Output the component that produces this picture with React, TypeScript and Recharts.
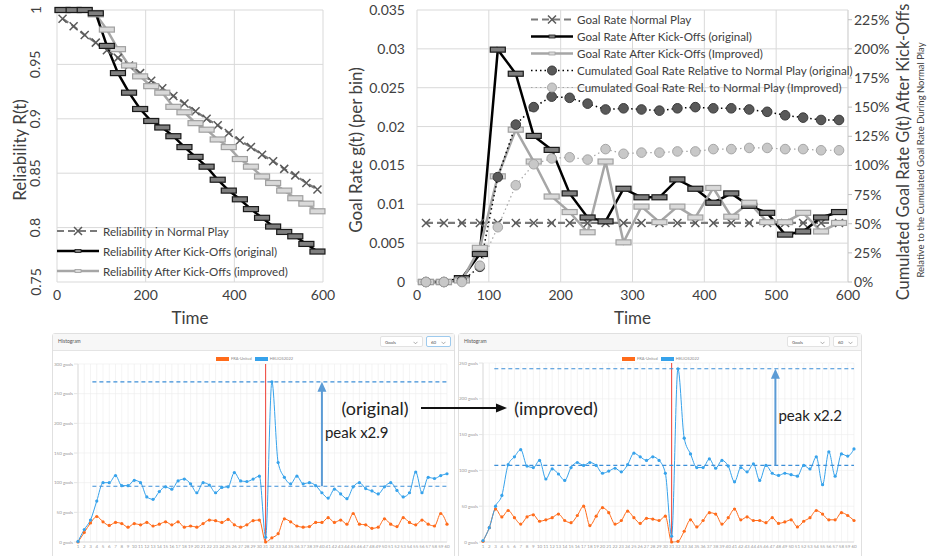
import React from 'react';
import {
  LineChart, ComposedChart, Line, XAxis, YAxis, CartesianGrid, Legend, ReferenceLine,
} from 'recharts';

// bin centres (seconds after the kick-off)
const binTimes = [12.5, 37.5, 62.5, 87.5, 112.5, 137.5, 162.5, 187.5, 212.5, 237.5, 262.5, 287.5,
  312.5, 337.5, 362.5, 387.5, 412.5, 437.5, 462.5, 487.5, 512.5, 537.5, 562.5, 587.5];

// reliability R(t)
const relNormal = [0.992, 0.985, 0.977, 0.970, 0.963, 0.956, 0.949, 0.942, 0.935, 0.928, 0.921, 0.914,
  0.907, 0.900, 0.894, 0.887, 0.880, 0.874, 0.867, 0.861, 0.854, 0.848, 0.841, 0.835];
const relOriginal = [1, 1, 1, 0.997, 0.967, 0.942, 0.924, 0.909, 0.898, 0.892, 0.884, 0.874,
  0.865, 0.856, 0.844, 0.834, 0.826, 0.817, 0.809, 0.801, 0.796, 0.792, 0.785, 0.778];
const relImproved = [1, 1, 1, 0.996, 0.982, 0.964, 0.949, 0.939, 0.930, 0.924, 0.911, 0.906,
  0.896, 0.890, 0.881, 0.874, 0.863, 0.856, 0.847, 0.841, 0.834, 0.827, 0.822, 0.815];

// goal rate g(t) per bin
const rateNormal = [0.0076, 0.0076, 0.0076, 0.0076, 0.0076, 0.0076, 0.0076, 0.0076, 0.0076, 0.0076, 0.0076, 0.0076,
  0.0076, 0.0076, 0.0076, 0.0076, 0.0076, 0.0076, 0.0076, 0.0076, 0.0076, 0.0076, 0.0076, 0.0076];
const rateOriginal = [0, 0, 0.0005, 0.0036, 0.0299, 0.0268, 0.0188, 0.0170, 0.0114, 0.0083, 0.0078, 0.0120,
  0.0109, 0.0109, 0.0132, 0.0120, 0.0102, 0.0114, 0.0098, 0.0089, 0.0061, 0.0065, 0.0083, 0.0090];
const rateImproved = [0, 0, 0.0002, 0.0044, 0.0136, 0.0196, 0.0155, 0.0110, 0.0090, 0.0064, 0.0155, 0.0051,
  0.0097, 0.0077, 0.0097, 0.0083, 0.0121, 0.0084, 0.0102, 0.0077, 0.0077, 0.0089, 0.0065, 0.0076];

// cumulated goal rate relative to normal play (%)
const cumOriginal = [0, 0, 1, 13, 90, 135, 150, 159, 158, 153, 148, 149, 148, 147, 149, 150, 149, 149, 148, 146, 143, 141, 139, 139];
const cumImproved = [0, 0, 0, 14, 47, 83, 101, 106, 107, 105, 114, 110, 111, 111, 112, 112, 114, 114, 115, 115, 114, 114, 113, 113];

// histogram screenshots: goals per bin
const histBins = [1, 2, 3, 4, 5, 6, 7, 8, 9, 10, 11, 12, 13, 14, 15, 16, 17, 18, 19, 20,
  21, 22, 23, 24, 25, 26, 27, 28, 29, 30, 31, 32, 33, 34, 35, 36, 37, 38, 39, 40,
  41, 42, 43, 44, 45, 46, 47, 48, 49, 50, 51, 52, 53, 54, 55, 56, 57, 58, 59, 60];
const heliosOriginal = [1, 21, 37, 69, 100, 100, 112, 95, 95, 104, 100, 76, 72, 85, 93, 89, 103, 106, 98, 83,
  100, 96, 83, 92, 93, 117, 103, 102, 106, 111, 8, 270, 134, 109, 98, 111, 98, 100, 95, 83,
  74, 89, 81, 73, 93, 100, 90, 86, 81, 93, 100, 87, 76, 83, 118, 83, 109, 107, 112, 115];
const fraOriginal = [0, 16, 32, 43, 34, 28, 33, 31, 25, 31, 29, 33, 27, 30, 34, 29, 34, 25, 27, 25,
  31, 37, 36, 33, 38, 29, 25, 29, 36, 37, 0, 7, 14, 39, 34, 27, 25, 26, 33, 33,
  41, 33, 37, 30, 48, 30, 29, 23, 25, 39, 30, 26, 41, 33, 29, 37, 30, 27, 48, 30];
const heliosImproved = [2, 20, 50, 65, 108, 119, 129, 106, 104, 114, 88, 102, 95, 86, 104, 111, 107, 111, 107, 96,
  99, 103, 98, 108, 124, 119, 114, 119, 114, 96, 8, 242, 145, 123, 104, 104, 116, 103, 114, 106,
  84, 104, 98, 109, 86, 107, 96, 93, 96, 94, 92, 107, 102, 119, 80, 126, 92, 123, 120, 130];
const fraImproved = [1, 20, 46, 35, 44, 34, 25, 35, 38, 29, 31, 34, 39, 30, 27, 37, 50, 23, 36, 48,
  41, 25, 30, 43, 34, 26, 33, 32, 30, 36, 0, 1, 15, 31, 21, 30, 41, 39, 25, 34,
  46, 31, 35, 30, 30, 27, 34, 26, 28, 31, 21, 29, 34, 44, 39, 31, 31, 41, 37, 30];

const topData = binTimes.map((t, i) => ({
  t,
  relNormal: relNormal[i], relOriginal: relOriginal[i], relImproved: relImproved[i],
  rateNormal: rateNormal[i], rateOriginal: rateOriginal[i], rateImproved: rateImproved[i],
  cumOriginal: cumOriginal[i], cumImproved: cumImproved[i],
}));

const FONT = 'Lato, "Open Sans", sans-serif';
const TXT = '#404040';
const GRID = '#d9d9d9';

// marker shapes
const xMark = (color: string) => (p: any) => {
  const { cx, cy, index } = p;
  return (
    <path key={index} d={`M${cx - 4},${cy - 4}L${cx + 4},${cy + 4}M${cx - 4},${cy + 4}L${cx + 4},${cy - 4}`}
      stroke={color} strokeWidth={1.5} fill="none" />
  );
};
const dashMark = (fill: string, stroke: string) => (p: any) => (
  <rect key={p.index} x={p.cx - 7.5} y={p.cy - 2.5} width={15} height={5} fill={fill} stroke={stroke} strokeWidth={1.2} />
);
const circleMark = (fill: string, stroke: string) => (p: any) => (
  <circle key={p.index} cx={p.cx} cy={p.cy} r={4.8} fill={fill} stroke={stroke} strokeWidth={1} />
);

const RotTick = (p: any) => (
  <text x={p.x} y={p.y} transform={`rotate(-90 ${p.x} ${p.y})`} textAnchor="middle" dominantBaseline="central"
    fontSize={14} fill={TXT} fontFamily={FONT}>{p.payload.value}</text>
);

// histogram y tick, kept on one line
const GoalsTick = (p: any) => (
  <text x={p.x} y={p.y} textAnchor="end" dominantBaseline="central" fontSize={4.5} fill="#999" fontFamily={FONT}>
    {`${p.payload.value} goals`}
  </text>
);

type Item = { label: string; kind: string };

const LegendIcon = ({ kind, y }: { kind: string; y: number }) => {
  const x1 = 0, x2 = 42, mx = 21;
  if (kind === 'normal') return (
    <g>
      <line x1={x1} y1={y} x2={x2} y2={y} stroke="#7a7a7a" strokeWidth={2.2} strokeDasharray="7 4" />
      {xMark('#595959')({ cx: mx, cy: y })}
    </g>
  );
  if (kind === 'orig') return (
    <g>
      <line x1={x1} y1={y} x2={x2} y2={y} stroke="#000" strokeWidth={2.5} />
      <rect x={mx - 3} y={y - 1.5} width={6} height={3} fill="#7f7f7f" stroke="#1a1a1a" strokeWidth={0.8} />
    </g>
  );
  if (kind === 'impr') return (
    <g>
      <line x1={x1} y1={y} x2={x2} y2={y} stroke="#a6a6a6" strokeWidth={2.5} />
      <rect x={mx - 3} y={y - 1.5} width={6} height={3} fill="#d9d9d9" stroke="#a0a0a0" strokeWidth={0.8} />
    </g>
  );
  if (kind === 'cumOrig') return (
    <g>
      <line x1={x1} y1={y} x2={x2} y2={y} stroke="#000" strokeWidth={1.5} strokeDasharray="1.5 3" />
      <circle cx={mx} cy={y} r={4.5} fill="#595959" stroke="#3a3a3a" />
    </g>
  );
  return (
    <g>
      <line x1={x1} y1={y} x2={x2} y2={y} stroke="#a6a6a6" strokeWidth={1.2} strokeDasharray="1.5 3" />
      <circle cx={mx} cy={y} r={4.5} fill="#c8c8c8" stroke="#a6a6a6" />
    </g>
  );
};

const makeLegend = (items: Item[], rowH: number, width: number) => () => (
  <svg width={width} height={items.length * rowH + 4} style={{ display: 'block', overflow: 'visible' }}>
    {items.map((it, i) => (
      <g key={it.label}>
        <LegendIcon kind={it.kind} y={rowH / 2 + i * rowH} />
        <text x={46} y={rowH / 2 + i * rowH} dominantBaseline="central" fontSize={11.6} fill={TXT} fontFamily={FONT}>{it.label}</text>
      </g>
    ))}
  </svg>
);

const relLegend: Item[] = [
  { label: 'Reliability in Normal Play', kind: 'normal' },
  { label: 'Reliability After Kick-Offs (original)', kind: 'orig' },
  { label: 'Reliability After Kick-Offs (improved)', kind: 'impr' },
];
const rateLegend: Item[] = [
  { label: 'Goal Rate Normal Play', kind: 'normal' },
  { label: 'Goal Rate After Kick-Offs (original)', kind: 'orig' },
  { label: 'Goal Rate After Kick-Offs (Improved)', kind: 'impr' },
  { label: 'Cumulated Goal Rate Relative to Normal Play (original)', kind: 'cumOrig' },
  { label: 'Cumulated Goal Rate Rel. to Normal Play (Improved)', kind: 'cumImpr' },
];

const tickStyle = { fontSize: 14, fill: TXT, fontFamily: FONT };

function ReliabilityChart() {
  return (
    <LineChart width={340} height={330} data={topData} margin={{ top: 10, right: 17, bottom: 6, left: 0 }}>
      <CartesianGrid stroke={GRID} />
      <XAxis type="number" dataKey="t" domain={[0, 600]} ticks={[0, 200, 400, 600]} axisLine={false} tickLine={false}
        tick={tickStyle} height={42}
        label={{ value: 'Time', position: 'insideBottom', offset: 0, fontSize: 17, fill: TXT, fontFamily: FONT }} />
      <YAxis domain={[0.75, 1]} ticks={[0.75, 0.8, 0.85, 0.9, 0.95, 1]} width={57} axisLine={false} tickLine={false}
        tickSize={0} tickMargin={22} tick={<RotTick />} />
      <Line dataKey="relNormal" stroke="#7a7a7a" strokeWidth={2.2} strokeDasharray="7 4" dot={xMark('#595959')} isAnimationActive={false} />
      <Line dataKey="relImproved" stroke="#a6a6a6" strokeWidth={2.5} dot={dashMark('#d9d9d9', '#a0a0a0')} isAnimationActive={false} />
      <Line dataKey="relOriginal" stroke="#000" strokeWidth={2.5} dot={dashMark('#7f7f7f', '#1a1a1a')} isAnimationActive={false} />
      <Legend layout="vertical" align="center" verticalAlign="middle" content={makeLegend(relLegend, 20, 270)}
        wrapperStyle={{ left: 57, top: 221, width: 270 }} />
    </LineChart>
  );
}

function GoalRateChart() {
  return (
    <ComposedChart width={587} height={330} data={topData} margin={{ top: 10, right: 34, bottom: 6, left: 0 }}>
      <CartesianGrid stroke={GRID} yAxisId="left" />
      <XAxis type="number" dataKey="t" domain={[0, 600]} ticks={[0, 100, 200, 300, 400, 500, 600]} axisLine={false}
        tickLine={false} tick={tickStyle} height={42}
        label={{ value: 'Time', position: 'insideBottom', offset: 0, fontSize: 17, fill: TXT, fontFamily: FONT }} />
      <YAxis yAxisId="left" domain={[0, 0.035]} ticks={[0, 0.005, 0.01, 0.015, 0.02, 0.025, 0.03, 0.035]} width={77}
        axisLine={false} tickLine={false} tickSize={0} tickMargin={12} tick={tickStyle} />
      <YAxis yAxisId="right" orientation="right" domain={[0, 233.33]} ticks={[0, 25, 50, 75, 100, 125, 150, 175, 200, 225]}
        width={45} axisLine={{ stroke: GRID }} tickLine={{ stroke: '#bfbfbf' }} tickSize={4} tickMargin={2}
        tick={tickStyle} tickFormatter={(v: number) => `${v}%`} />
      <Line yAxisId="left" dataKey="rateNormal" stroke="#7a7a7a" strokeWidth={2.2} strokeDasharray="7 4" dot={xMark('#595959')} isAnimationActive={false} />
      <Line yAxisId="left" dataKey="rateOriginal" stroke="#000" strokeWidth={2.5} dot={dashMark('#7f7f7f', '#1a1a1a')} isAnimationActive={false} />
      <Line yAxisId="left" dataKey="rateImproved" stroke="#a6a6a6" strokeWidth={2.5} dot={dashMark('#d9d9d9', '#a0a0a0')} isAnimationActive={false} />
      <Line yAxisId="right" dataKey="cumOriginal" stroke="#000" strokeWidth={1.5} strokeDasharray="1.5 3" dot={circleMark('#595959', '#3a3a3a')} isAnimationActive={false} />
      <Line yAxisId="right" dataKey="cumImproved" stroke="#a6a6a6" strokeWidth={1.2} strokeDasharray="1.5 3" dot={circleMark('#c8c8c8', '#a6a6a6')} isAnimationActive={false} />
      <Legend layout="vertical" align="center" verticalAlign="middle" content={makeLegend(rateLegend, 17, 330)}
        wrapperStyle={{ left: 191, top: 11, width: 330 }} />
    </ComposedChart>
  );
}

const BLUE = '#36a2eb';
const ORANGE = '#ff6b1a';
const ARROW = '#5b9bd5';

const arrowShape = (label: string) => (p: any) => (
  <g>
    <line x1={p.x1} y1={p.y1} x2={p.x2} y2={p.y2 + 9} stroke={ARROW} strokeWidth={2} />
    <polygon points={`${p.x2 - 4.5},${p.y2 + 10} ${p.x2 + 4.5},${p.y2 + 10} ${p.x2},${p.y2}`} fill={ARROW} />
    <text x={p.x1 + 3} y={(p.y1 + p.y2) / 2 + 4} fontSize={15} fill="#222" fontFamily={FONT}>{label}</text>
  </g>
);

function Select({ left, text, width, focus }: { left: number; text: string; width: number; focus?: boolean }) {
  return (
    <div style={{
      position: 'absolute', left, top: 2, width, height: 11, border: `1px solid ${focus ? '#9ecaed' : '#e2e2e2'}`,
      borderRadius: 2, background: '#fff', fontSize: 4.5, color: '#555', fontFamily: FONT, lineHeight: '11px', paddingLeft: 4,
      boxSizing: 'border-box',
    }}>
      {text}
      <svg width={5} height={4} style={{ position: 'absolute', right: 4, top: 4 }}>
        <path d="M0.5,0.8L2.5,2.8L4.5,0.8" stroke="#888" strokeWidth={0.7} fill="none" />
      </svg>
    </div>
  );
}

type HistProps = {
  left: number; width: number; yWidth: number; top: number; yMax: number; yTicks: number[];
  fra: number[]; helios: number[]; peak: number; base: number; dashFrom: number; arrowX: number;
  peakLabel: string; focus?: boolean;
};

function Histogram(h: HistProps) {
  const data = histBins.map((b, i) => ({ bin: b, fra: h.fra[i], helios: h.helios[i] }));
  return (
    <div style={{
      position: 'absolute', left: h.left, top: 333, width: h.width, height: 240, border: '1px solid #e0e0e0',
      borderRadius: 3, background: '#fff', boxSizing: 'border-box',
    }}>
      <div style={{ position: 'absolute', left: 0, top: 0, right: 0, height: 16, background: '#f7f7f7', borderBottom: '1px solid #e4e4e4' }}>
        <span style={{ position: 'absolute', left: 5, top: 4, fontSize: 5, color: '#555', fontFamily: FONT }}>Histogram</span>
        <Select left={h.width - 76} text="Goals" width={43} />
        <Select left={h.width - 30} text="60" width={25} focus={h.focus} />
      </div>
      <div style={{ position: 'absolute', left: -1, top: 15 }}>
        <LineChart width={h.width} height={207} data={data} margin={{ top: h.top, right: 8, bottom: 0, left: 0 }}>
          <CartesianGrid stroke="#ececec" strokeWidth={0.6} />
          <XAxis type="number" dataKey="bin" domain={[1, 60]} ticks={histBins} interval={0} height={14}
            axisLine={{ stroke: '#dcdcdc' }} tickLine={false} tickSize={2} tickMargin={1}
            tick={{ fontSize: 4.5, fill: '#999', fontFamily: FONT }} />
          <YAxis domain={[0, h.yMax]} ticks={h.yTicks} width={h.yWidth} axisLine={{ stroke: '#dcdcdc' }}
            tickLine={{ stroke: '#e4e4e4' }} tickSize={4} tickMargin={1} tick={<GoalsTick />} />
          <ReferenceLine x={31} stroke="#ef4136" strokeWidth={1} />
          <Line dataKey="fra" type="monotone" stroke={ORANGE} strokeWidth={1} dot={{ r: 1.6, fill: ORANGE, strokeWidth: 0 }} isAnimationActive={false} />
          <Line dataKey="helios" type="monotone" stroke={BLUE} strokeWidth={1} dot={{ r: 1.6, fill: BLUE, strokeWidth: 0 }} isAnimationActive={false} />
          <ReferenceLine segment={[{ x: h.dashFrom, y: h.peak }, { x: 60, y: h.peak }]} stroke="#3d8fd8" strokeWidth={1.2} strokeDasharray="4 3" />
          <ReferenceLine segment={[{ x: h.dashFrom, y: h.base }, { x: 60, y: h.base }]} stroke="#3d8fd8" strokeWidth={1.2} strokeDasharray="4 3" />
          <ReferenceLine segment={[{ x: h.arrowX, y: h.base }, { x: h.arrowX, y: h.peak }]} shape={arrowShape(h.peakLabel)} />
          <Legend layout="vertical" align="center" verticalAlign="middle" wrapperStyle={{ left: 164, top: 7 }}
            content={() => (
              <div style={{ display: 'flex', alignItems: 'center', fontSize: 4, color: '#888', fontFamily: FONT, whiteSpace: 'nowrap' }}>
                <span style={{ width: 13, height: 4, background: ORANGE, display: 'inline-block', marginRight: 2 }} />
                <span style={{ marginRight: 3 }}>FRA-United</span>
                <span style={{ width: 13, height: 4, background: BLUE, display: 'inline-block', marginRight: 2 }} />
                <span>HELIOS2022</span>
              </div>
            )} />
        </LineChart>
      </div>
    </div>
  );
}

export default function App() {
  return (
    <div style={{ position: 'absolute', left: 0, top: 0, width: 927, height: 556, background: '#fff', overflow: 'hidden', fontFamily: FONT }}>
      <div style={{ position: 'absolute', left: 0, top: 0 }}><ReliabilityChart /></div>
      <div style={{ position: 'absolute', left: 340, top: 0 }}><GoalRateChart /></div>
      <Histogram left={52} width={403} yWidth={26} top={15} yMax={300} yTicks={[0, 50, 100, 150, 200, 250, 300]}
        fra={fraOriginal} helios={heliosOriginal} peak={270} base={94} dashFrom={3.3} arrowX={40} peakLabel="peak x2.9" focus />
      <Histogram left={458} width={404} yWidth={25} top={14} yMax={250} yTicks={[0, 50, 100, 150, 200, 250]}
        fra={fraImproved} helios={heliosImproved} peak={242} base={107} dashFrom={2.8} arrowX={47.5} peakLabel="peak x2.2" />
      <svg width={927} height={556} style={{ position: 'absolute', left: 0, top: 0, pointerEvents: 'none' }}>
        <g fontFamily={FONT} fill={TXT}>
          <text transform="translate(19 150) rotate(-90)" textAnchor="middle" dominantBaseline="central" fontSize={17}>Reliability R(t)</text>
          <text transform="translate(355 150) rotate(-90)" textAnchor="middle" dominantBaseline="central" fontSize={17}>Goal Rate g(t) (per bin)</text>
          <text transform="translate(903 152) rotate(-90)" textAnchor="middle" dominantBaseline="central" fontSize={16.5}>Cumulated Goal Rate G(t) After Kick-Offs</text>
          <text transform="translate(920 160) rotate(-90)" textAnchor="middle" dominantBaseline="central" fontSize={9.5}>Relative to the Cumulated Goal Rate During Normal Play</text>
        </g>
        <g fontFamily={FONT} fill="#222" fontSize={18}>
          <text x={375} y={408} textAnchor="middle" dominantBaseline="central">(original)</text>
          <text x={556} y={408} textAnchor="middle" dominantBaseline="central">(improved)</text>
        </g>
        <line x1={421} y1={408} x2={497} y2={408} stroke="#111" strokeWidth={2} />
        <polygon points="496,403.5 507,408 496,412.5" fill="#111" />
      </svg>
    </div>
  );
}
